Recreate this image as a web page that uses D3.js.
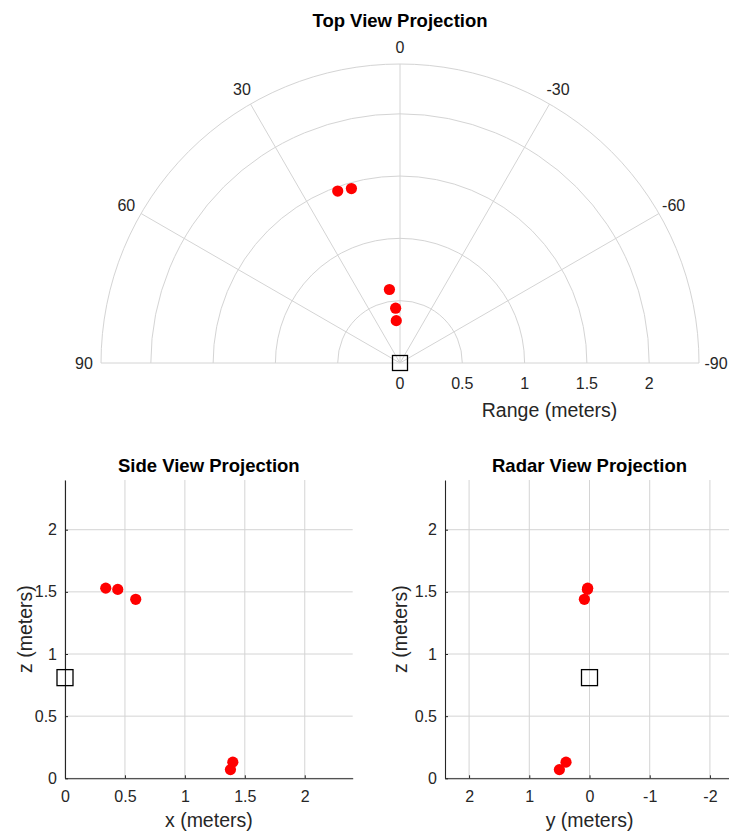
<!DOCTYPE html>
<html>
<head>
<meta charset="utf-8">
<script src="https://cdn.jsdelivr.net/npm/d3@7"></script>
<style>
  html, body { margin: 0; padding: 0; background: #fff; }
  svg { display: block; font-family: "Liberation Sans", Arial, Helvetica, sans-serif; }
</style>
</head>
<body>
<script>
// Detected targets (meters): forward x, lateral y (left positive), height z
const targetX = [1.38, 1.40, 0.59, 0.44, 0.34];
const targetY = [0.50, 0.39, 0.085, 0.035, 0.03];
const targetZ = [0.07, 0.13, 1.44, 1.52, 1.53];

// Radar sensor location
const sensorX = [0];
const sensorY = [0];
const sensorZ = [0.81];

// Axis limits and ticks
const rangeMax = 2.4;
const rangeTicks = [0, 0.5, 1, 1.5, 2];
const azimuthTicks = [90, 60, 30, 0, -30, -60, -90];
const xTicks = [0, 0.5, 1, 1.5, 2];
const zTicks = [0, 0.5, 1, 1.5, 2];
const yTicks = [2, 1, 0, -1, -2];

const W = 729, H = 832;
const gridColor = "#d4d4d4";
const axisColor = "#262626";
const textColor = "#262626";
const dotColor = "#ff0000";
const dotR = 5.6;
const sq = 15;
const tickFont = 16;
const labelFont = 19.5;
const titleFont = 18.5;

const svg = d3.select("body").append("svg")
  .attr("width", W).attr("height", H)
  .attr("viewBox", `0 0 ${W} ${H}`);

/* ---------- Top view (polar, upper half) ---------- */
const cx = 400, cy = 363;
const rScale = d3.scaleLinear().domain([0, rangeMax]).range([0, 299]);
const rad = d => d * Math.PI / 180;
const polarPt = (r, az) => [cx - rScale(r) * Math.sin(rad(az)), cy - rScale(r) * Math.cos(rad(az))];

const topG = svg.append("g");

// range rings
[...rangeTicks.filter(d => d > 0), rangeMax].forEach(r => {
  const p = d3.path();
  p.arc(cx, cy, rScale(r), Math.PI, 2 * Math.PI);
  topG.append("path").attr("d", p.toString())
    .attr("fill", "none").attr("stroke", gridColor).attr("stroke-width", 1);
});

// azimuth spokes
azimuthTicks.forEach(az => {
  const [x2, y2] = polarPt(rangeMax, az);
  topG.append("line")
    .attr("x1", cx).attr("y1", cy).attr("x2", x2).attr("y2", y2)
    .attr("stroke", gridColor).attr("stroke-width", 1);
});

// azimuth labels
azimuthTicks.forEach(az => {
  const rr = rScale.invert(rScale(rangeMax) + 17);
  const [x, y] = polarPt(rr, az);
  topG.append("text")
    .attr("x", x).attr("y", y)
    .attr("text-anchor", "middle").attr("dominant-baseline", "central")
    .attr("font-size", tickFont).attr("fill", textColor)
    .text(String(az));
});

// range tick labels along the right baseline
rangeTicks.forEach(r => {
  topG.append("text")
    .attr("x", cx + rScale(r)).attr("y", 383)
    .attr("text-anchor", "middle").attr("dominant-baseline", "central")
    .attr("font-size", tickFont).attr("fill", textColor)
    .text(String(r));
});

topG.append("text")
  .attr("x", cx + rScale(rangeMax / 2)).attr("y", 410)
  .attr("text-anchor", "middle").attr("dominant-baseline", "central")
  .attr("font-size", labelFont).attr("fill", textColor)
  .text("Range (meters)");

topG.append("text")
  .attr("x", cx).attr("y", 20)
  .attr("text-anchor", "middle").attr("dominant-baseline", "central")
  .attr("font-size", titleFont).attr("font-weight", "bold").attr("fill", "#000")
  .text("Top View Projection");

// targets in top view
const topPts = targetX.map((x, i) => {
  const y = targetY[i];
  return { r: Math.hypot(x, y), az: Math.atan2(y, x) * 180 / Math.PI };
});
topG.selectAll("circle.t").data(topPts).join("circle")
  .attr("class", "t")
  .attr("cx", d => polarPt(d.r, d.az)[0])
  .attr("cy", d => polarPt(d.r, d.az)[1])
  .attr("r", dotR).attr("fill", dotColor);

// sensor
sensorX.forEach((x, i) => {
  const r = Math.hypot(x, sensorY[i]);
  const az = Math.atan2(sensorY[i], x) * 180 / Math.PI;
  const [px, py] = polarPt(r, az);
  topG.append("rect")
    .attr("x", px - sq / 2).attr("y", py - sq / 2)
    .attr("width", sq).attr("height", sq)
    .attr("fill", "none").attr("stroke", "#000").attr("stroke-width", 1.3);
});

/* ---------- Cartesian panels ---------- */
const panelTop = 480, panelBottom = 778.3;

function panel(opts) {
  const g = svg.append("g");
  const xs = d3.scaleLinear().domain(opts.xDomain).range([opts.left, opts.right]);
  const ys = d3.scaleLinear().domain([0, 2.4]).range([panelBottom, panelTop]);

  // grid
  g.selectAll("line.gx").data(opts.xTicks).join("line")
    .attr("x1", d => xs(d)).attr("x2", d => xs(d))
    .attr("y1", panelTop).attr("y2", panelBottom)
    .attr("stroke", gridColor).attr("stroke-width", 1);
  g.selectAll("line.gy").data(zTicks).join("line")
    .attr("x1", opts.left).attr("x2", opts.right)
    .attr("y1", d => ys(d)).attr("y2", d => ys(d))
    .attr("stroke", gridColor).attr("stroke-width", 1);

  // axes with inward ticks
  const ax = g.append("g").attr("transform", `translate(0,${panelBottom})`)
    .call(d3.axisBottom(xs).tickValues(opts.xTicks).tickFormat(d => String(d)).tickSizeInner(-3).tickSizeOuter(0).tickPadding(12));
  const ay = g.append("g").attr("transform", `translate(${opts.left},0)`)
    .call(d3.axisLeft(ys).tickValues(zTicks).tickFormat(d => String(d)).tickSizeInner(-3).tickSizeOuter(0).tickPadding(8));
  [ax, ay].forEach(a => {
    a.select(".domain").attr("stroke", axisColor).attr("stroke-width", 1.1);
    a.selectAll(".tick line").attr("stroke", axisColor);
    a.selectAll(".tick text").attr("fill", textColor).attr("font-size", tickFont)
      .attr("font-family", "Liberation Sans, Arial, sans-serif");
  });

  // titles & labels
  const mid = (opts.left + opts.right) / 2;
  g.append("text").attr("x", mid).attr("y", 465)
    .attr("text-anchor", "middle").attr("dominant-baseline", "central")
    .attr("font-size", titleFont).attr("font-weight", "bold").attr("fill", "#000")
    .text(opts.title);
  g.append("text").attr("x", mid).attr("y", 820)
    .attr("text-anchor", "middle").attr("dominant-baseline", "central")
    .attr("font-size", labelFont).attr("fill", textColor)
    .text(opts.xLabel);
  g.append("text")
    .attr("transform", `translate(${opts.left - opts.zLabelOffset},${(panelTop + panelBottom) / 2}) rotate(-90)`)
    .attr("text-anchor", "middle").attr("dominant-baseline", "central")
    .attr("font-size", labelFont).attr("fill", textColor)
    .text("z (meters)");

  // targets
  g.selectAll("circle.p").data(opts.h.map((v, i) => [v, targetZ[i]])).join("circle")
    .attr("class", "p")
    .attr("cx", d => xs(d[0])).attr("cy", d => ys(d[1]))
    .attr("r", dotR).attr("fill", dotColor);

  // sensor
  opts.sensorH.forEach((v, i) => {
    g.append("rect")
      .attr("x", xs(v) - sq / 2 - 0.5).attr("y", ys(sensorZ[i]) - sq / 2 - 0.5)
      .attr("width", sq + 1).attr("height", sq + 1)
      .attr("fill", "none").attr("stroke", "#000").attr("stroke-width", 1.3);
  });
}

panel({
  left: 65, right: 352.7, xDomain: [0, 2.4], xTicks: xTicks,
  title: "Side View Projection", xLabel: "x (meters)",
  h: targetX, sensorH: sensorX, zLabelOffset: 40
});

panel({
  left: 445, right: 734, xDomain: [2.4, -2.4], xTicks: yTicks,
  title: "Radar View Projection", xLabel: "y (meters)",
  h: targetY, sensorH: sensorY, zLabelOffset: 45
});
</script>
</body>
</html>
